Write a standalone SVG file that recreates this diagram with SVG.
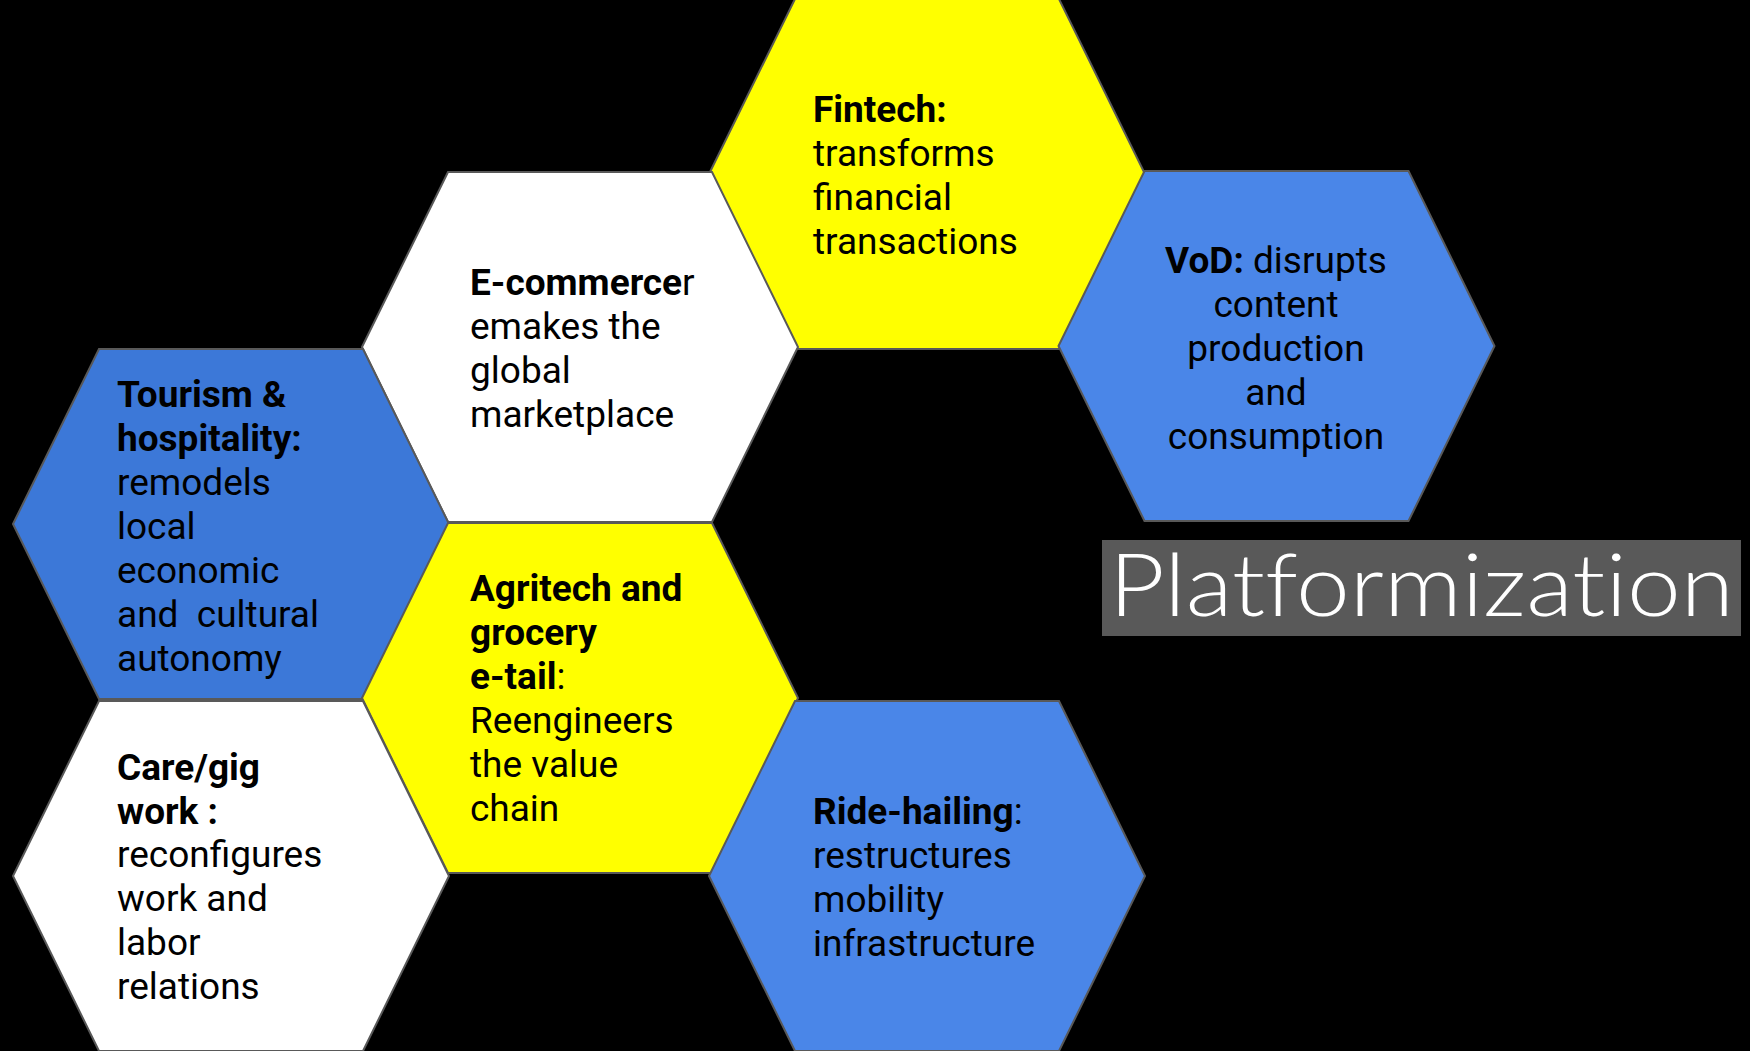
<svg xmlns="http://www.w3.org/2000/svg" width="1750" height="1051" viewBox="0 0 1750 1051">
<style>
.hex{stroke:#595959;stroke-width:2}
.yel{fill:#ffff00}
.wht{fill:#ffffff}
.blu{fill:#4a86e8}
.dblu{fill:#3c78d8}
.t{font-family:Roboto,"Liberation Sans",sans-serif;font-size:37px;fill:#000000;white-space:pre}
.b{font-weight:bold}
.title{font-family:Lato,"DejaVu Sans",sans-serif;font-weight:300;font-size:86px;fill:#ffffff;font-variant-ligatures:none;font-feature-settings:"liga" 0,"clig" 0,"dlig" 0,"calt" 0}
</style>
<rect x="0" y="0" width="1750" height="1051" fill="#000000"/>
<g id="fintech">
<polygon class="hex yel" points="709,174 795,-1 1059,-1 1145,174 1059,349 795,349"/>
<text class="t" x="813"><tspan x="813" y="122" class="b">Fintech:</tspan><tspan x="813" y="166">transforms</tspan><tspan x="813" y="210">financial</tspan><tspan x="813" y="254">transactions</tspan></text>
</g>
<g id="ecommerce">
<polygon class="hex wht" points="362,347 448,172 712,172 798,347 712,522 448,522"/>
<text class="t" x="470"><tspan x="470" y="295"><tspan class="b">E-commerce</tspan>r</tspan><tspan x="470" y="339">emakes the</tspan><tspan x="470" y="383">global</tspan><tspan x="470" y="427">marketplace</tspan></text>
</g>
<g id="vod">
<polygon class="hex blu" points="1058.5,346 1144.5,171 1408.5,171 1494.5,346 1408.5,521 1144.5,521"/>
<text class="t" text-anchor="middle"><tspan x="1276" y="273"><tspan class="b">VoD:</tspan> disrupts</tspan><tspan x="1276" y="317">content</tspan><tspan x="1276" y="361">production</tspan><tspan x="1276" y="405">and</tspan><tspan x="1276" y="449">consumption</tspan></text>
</g>
<g id="tourism">
<polygon class="hex dblu" points="13,524 99,349 363,349 449,524 363,699 99,699"/>
<text class="t" x="117"><tspan x="117" y="407" class="b">Tourism &amp;</tspan><tspan x="117" y="451" class="b">hospitality:</tspan><tspan x="117" y="495">remodels</tspan><tspan x="117" y="539">local</tspan><tspan x="117" y="583">economic</tspan><tspan x="117" y="627">and  cultural</tspan><tspan x="117" y="671">autonomy</tspan></text>
</g>
<g id="agritech">
<polygon class="hex yel" points="362,698 448,523 712,523 798,698 712,873 448,873"/>
<text class="t" x="470"><tspan x="470" y="601" class="b">Agritech and</tspan><tspan x="470" y="645" class="b">grocery</tspan><tspan x="470" y="689"><tspan class="b">e-tail</tspan>:</tspan><tspan x="470" y="733">Reengineers</tspan><tspan x="470" y="777">the value</tspan><tspan x="470" y="821">chain</tspan></text>
</g>
<g id="caregig">
<polygon class="hex wht" points="13,876 99,701 363,701 449,876 363,1051 99,1051"/>
<text class="t" x="117"><tspan x="117" y="780" class="b">Care/gig</tspan><tspan x="117" y="824" class="b">work :</tspan><tspan x="117" y="867">reconfigures</tspan><tspan x="117" y="911">work and</tspan><tspan x="117" y="955">labor</tspan><tspan x="117" y="999">relations</tspan></text>
</g>
<g id="ridehailing">
<polygon class="hex blu" points="709,876 795,701 1059,701 1145,876 1059,1051 795,1051"/>
<text class="t" x="813"><tspan x="813" y="824"><tspan class="b">Ride-hailing</tspan>:</tspan><tspan x="813" y="868">restructures</tspan><tspan x="813" y="912">mobility</tspan><tspan x="813" y="956">infrastructure</tspan></text>
</g>
<g id="platformization">
<rect x="1102" y="540" width="639" height="96" fill="#595959"/>
<text class="title" x="1109" y="616" textLength="625" lengthAdjust="spacingAndGlyphs">Platformization</text>
</g>
</svg>
